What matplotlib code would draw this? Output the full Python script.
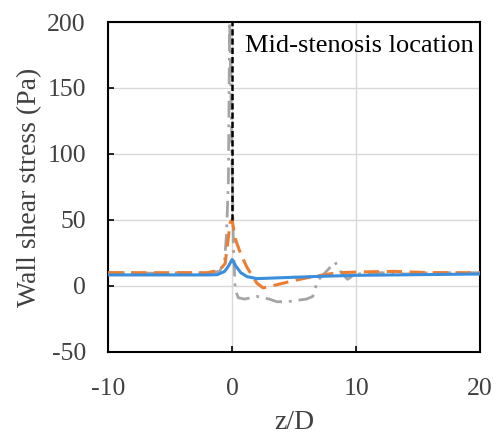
import matplotlib
matplotlib.use("Agg")
import matplotlib.pyplot as plt

plt.rcParams['font.family'] = ['Liberation Serif', 'DejaVu Serif']
plt.rcParams['axes.unicode_minus'] = False

# Gray dash-dot series
gray_x = [-10, -8, -6, -4, -2, -1, -0.6, -0.45, -0.3, -0.2, -0.1, 0.1, 0.25, 0.5, 1, 2, 3,
          3.6, 4.5, 5.2, 6, 6.5, 6.9, 7.5, 7.9, 8.3, 8.8, 9.3, 10, 12, 14, 16, 18, 20]
gray_y = [10, 10, 9.5, 10, 10, 11, 20, 40, 80, 200, 150, 30, -3, -9, -10, -8, -10,
          -12, -12, -11, -10, -8, 4, 10, 14, 18, 10, 5, 9, 10, 9, 10, 10, 10]

# Orange dashed series
orange_x = [-10, -8, -6, -4, -2, -1, -0.56, -0.16, 0, 0.24, 0.7, 1.2, 2, 2.5, 3.2, 4.1,
            5.2, 6.5, 8.5, 10.6, 13, 16, 20]
orange_y = [10, 10, 10, 10, 10, 12, 17, 48, 50, 36, 24, 14, 2, -1.5, 0, 2,
            4.5, 7, 10, 10.6, 11, 10, 10]

# Blue solid series
blue_x = [-10, -6, -2, -1.2, -0.6, -0.3, 0, 0.3, 0.7, 1.2, 2, 4, 7, 10, 15, 20]
blue_y = [8.3, 8.3, 8.3, 8.5, 11, 15, 20, 15, 10, 7, 5.5, 6.2, 7.2, 8, 8.5, 9]

# Mid-stenosis marker
marker_x = [0, 0]
marker_y = [50, 200]

xticks = [-10, 0, 10, 20]
yticks = [-50, 0, 50, 100, 150, 200]

fig = plt.figure(figsize=(4.96, 4.36), dpi=100)
ax = fig.add_axes([0.218, 0.193, 0.75, 0.7565])

ax.plot(gray_x, gray_y, color='#A5A5A5', lw=2.0, dashes=(6, 2.5, 1, 2.5), zorder=3)
ax.plot(orange_x, orange_y, color='#ED7D31', lw=2.2, dashes=(5, 2.5), zorder=4)
ax.plot(blue_x, blue_y, color='#3A8EDB', lw=2.2, zorder=5)
ax.plot(marker_x, marker_y, color='black', lw=1.8, dashes=(2.5, 1.2), zorder=6)

ax.text(1.0, 182, 'Mid-stenosis location', fontsize=19, va='center', ha='left',
        color='black', zorder=7)

ax.set_xlim(-10, 20)
ax.set_ylim(-50, 200)
ax.set_xticks(xticks)
ax.set_yticks(yticks)
ax.tick_params(direction='in', length=4, width=1.2, labelsize=18.5, color='black',
               labelcolor='#404040')
ax.tick_params(axis='y', pad=16)
ax.tick_params(axis='x', pad=19)
ax.grid(True, color='#D9D9D9', lw=1)
ax.set_axisbelow(True)
for s in ax.spines.values():
    s.set_linewidth(1.5)
    s.set_color('black')

ax.set_xlabel('z/D', fontsize=20, color='#404040', labelpad=7)
ax.set_ylabel('Wall shear stress (Pa)', fontsize=20, color='#404040', labelpad=4)

fig.savefig('out.png', dpi=100)
